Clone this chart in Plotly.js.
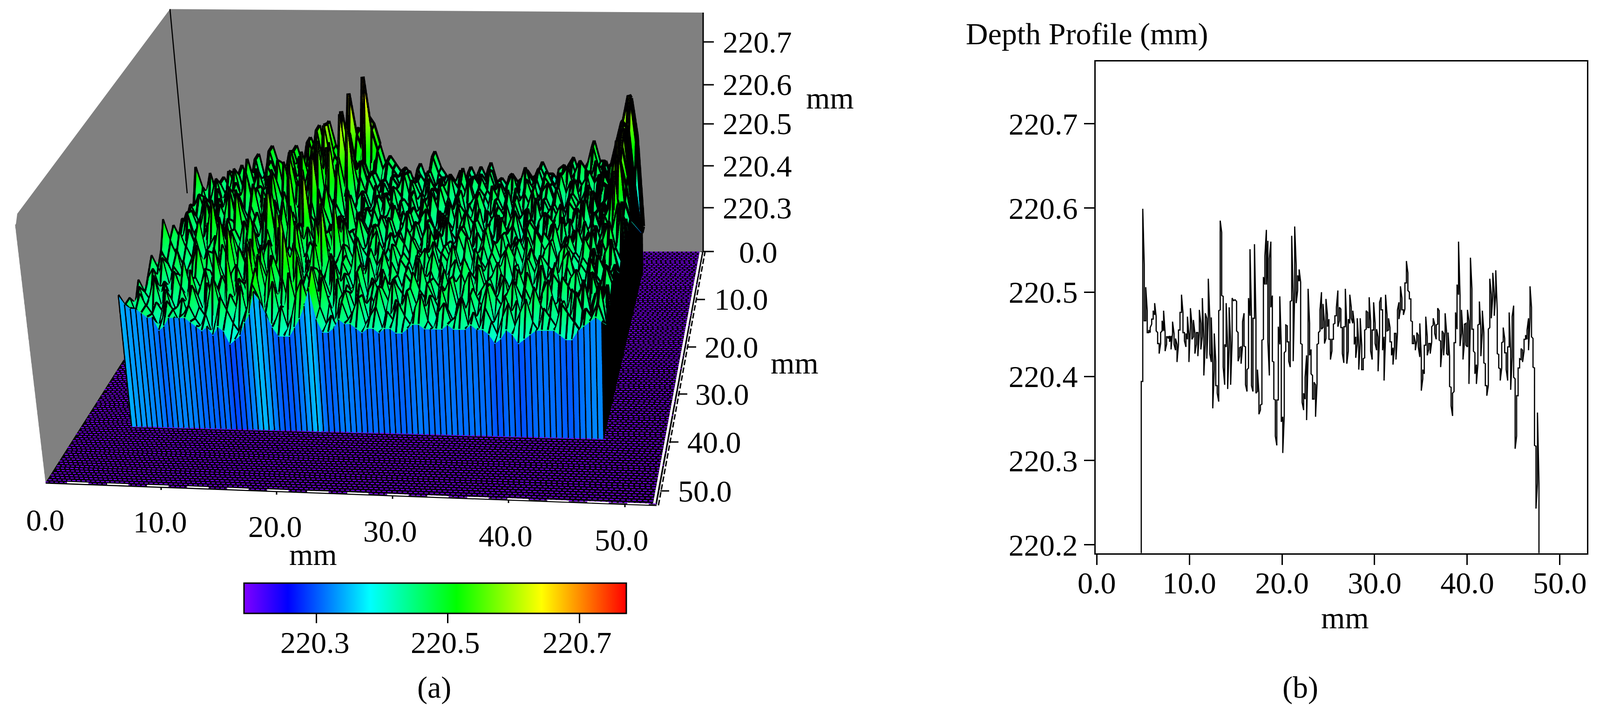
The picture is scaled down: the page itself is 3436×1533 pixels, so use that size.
<!DOCTYPE html><html><head><meta charset="utf-8"><script src="https://cdn.plot.ly/plotly-3.0.1.min.js"></script>
<style>html,body{margin:0;padding:0;background:#fff;overflow:hidden;width:3436px;height:1533px}#g{position:absolute}</style></head><body><div id="g"></div>
<script>
// ---------- data ----------
// Panel (b): per-column highest / lowest reading of the profile, in 0.001 mm above 220 mm
const profileHighMilli=[394,599,533,506,478,455,458,468,478,487,471,452,439,452,466,478,452,447,447,448,448,465,451,445,438,455,476,497,476,452,451,471,449,481,462,467,451,452,452,479,463,493,447,475,469,516,470,470,415,451,418,389,478,585,571,495,438,487,435,482,441,493,490,491,489,452,434,435,465,475,435,408,493,551,472,469,557,467,408,380,366,443,518,543,574,561,540,560,496,417,372,372,459,495,437,352,428,461,460,441,489,567,498,578,532,520,527,512,438,380,399,425,504,463,432,401,393,390,438,452,479,500,486,465,492,473,468,444,444,462,472,482,502,482,480,458,459,504,458,468,
497,482,478,463,447,469,438,469,437,421,455,478,476,494,465,455,488,463,456,447,488,494,479,447,497,473,469,458,441,434,451,451,479,488,507,493,479,511,537,523,500,492,465,449,441,452,449,463,423,408,437,471,447,439,439,459,469,462,461,481,478,442,454,451,475,452,452,424,387,380,440,476,509,560,497,479,449,462,463,479,466,541,504,456,428,414,461,489,456,478,452,415,389,456,516,497,523,499,526,478,426,409,440,458,445,428,435,476,430,471,484,397,377,410,421,433,431,444,449,455,469,507,482,445,410,317,357,273];
const profileLowMilli=[190,394,466,466,452,452,452,462,468,473,454,439,427,439,454,454,430,438,445,441,432,451,438,431,417,438,455,476,452,442,435,444,417,458,444,447,427,438,424,452,432,447,401,439,421,469,427,417,362,408,389,380,370,479,496,411,390,435,385,435,390,442,490,491,454,418,424,415,436,436,390,382,410,472,389,382,469,380,382,355,360,367,444,509,509,441,401,482,418,373,329,318,372,438,346,309,353,430,441,418,411,490,418,499,487,502,513,439,369,360,373,348,425,425,403,373,373,352,391,439,454,456,458,439,445,459,444,420,430,444,463,472,459,466,458,427,416,459,415,430,
463,469,463,438,422,438,408,438,408,408,422,456,458,458,430,420,455,439,431,406,447,479,431,395,447,454,455,441,425,414,434,420,451,468,480,479,473,480,511,502,492,466,439,439,431,442,435,423,383,397,403,437,425,432,427,441,461,451,444,462,443,411,434,425,452,427,425,388,365,353,382,440,456,497,436,451,420,441,437,435,391,468,456,430,403,391,414,462,424,452,416,389,377,389,458,469,496,472,499,427,410,395,410,441,428,408,395,435,384,423,399,314,329,377,410,420,417,430,444,444,431,469,447,411,318,243,273,190];
// Panel (a): surface height, front row first, back row last, in 0.01 mm above 220 mm
const depthRows=[
[50,48,47,47,46,45,45,42,43,45,45,45,45,44,43,42,43,41,43,42,39,40,41,44,46,51,49,46,43,41,41,41,43,45,48,52,45,42,42,43,45,44,44,43,42,43,43,42,43,43,42,42,43,44,44,43,43,43,43,44,43,43,43,44,43,43,42,40,41,43,42,40,41,42,43,43,43,43,42,41,41,43,44,45,46,45],
[46,45,45,42,46,44,41,43,47,45,42,44,46,43,41,44,39,43,48,45,42,40,43,46,51,48,44,40,43,46,41,44,49,52,47,55,46,42,44,41,47,43,45,48,42,44,46,41,45,43,47,44,42,46,49,43,41,45,47,43,44,48,42,45,41,46,43,40,44,47,42,45,48,43,41,46,44,42,47,45,43,41,46,44,47,43],
[46,42,47,44,41,45,43,48,42,44,46,41,49,44,42,46,51,43,40,47,44,49,41,45,53,42,46,50,41,44,52,45,41,47,49,43,51,45,40,46,48,42,44,47,41,45,49,43,42,46,44,48,41,45,43,47,42,49,44,41,46,43,47,42,45,49,41,44,47,43,46,41,44,49,45,42,47,43,46,41,48,44,42,45,50,41],
[43,47,41,45,49,42,46,44,40,47,43,51,45,41,48,43,46,41,55,44,49,42,57,45,41,48,53,44,49,42,46,54,43,48,42,51,45,41,49,44,46,42,48,43,45,41,47,44,49,42,45,47,43,41,48,45,42,46,49,43,45,41,47,44,42,48,45,43,46,49,41,47,44,42,46,49,43,45,41,47,44,49,42,46,43,48],
[47,44,42,48,43,46,41,49,45,43,47,42,46,49,41,45,48,44,42,50,46,41,47,53,44,49,42,45,58,43,48,46,41,50,44,47,43,51,42,46,44,49,41,45,47,43,48,42,46,44,41,49,45,43,47,42,46,44,48,41,46,49,43,45,47,42,44,48,41,46,43,49,45,42,47,44,41,48,46,43,45,41,49,44,46,42],
[42,46,48,43,45,41,47,44,50,42,46,43,48,41,53,45,42,47,49,43,46,55,42,48,44,51,46,41,49,54,44,47,42,48,45,41,50,44,47,43,45,49,42,46,41,48,44,46,42,47,45,41,49,43,46,44,48,42,45,47,43,41,49,44,46,42,47,45,41,48,44,46,42,49,43,47,45,41,46,48,42,44,47,43,49,45],
[45,41,44,49,42,47,45,43,41,48,52,44,46,42,47,43,57,45,41,49,44,47,52,43,48,42,59,46,44,49,41,47,53,43,46,50,42,48,45,41,47,44,49,43,46,42,48,45,41,47,43,49,44,46,42,48,43,45,41,49,46,44,47,42,45,48,43,41,47,44,49,42,46,45,43,48,41,47,44,46,42,49,45,43,47,44],
[48,45,42,46,43,49,41,45,47,43,46,49,42,45,41,48,44,50,46,42,55,44,41,48,46,43,50,45,56,42,47,44,49,60,43,46,42,48,45,51,43,47,41,45,49,44,42,47,45,43,48,41,46,49,44,42,45,47,43,46,41,48,44,47,42,45,49,43,46,41,47,44,48,42,45,43,47,49,42,46,44,41,48,45,43,46],
[43,47,45,41,48,44,42,46,50,44,41,47,43,49,45,52,42,46,44,48,41,47,50,43,53,46,42,49,45,47,41,55,44,48,42,46,49,43,47,45,41,48,44,46,42,49,43,47,45,41,46,48,44,42,47,45,49,43,46,41,48,45,43,47,44,42,49,46,41,45,48,43,46,44,42,47,49,45,41,46,44,48,42,47,50,43],
[46,43,48,45,42,47,44,49,41,46,43,48,54,42,45,47,43,49,42,46,44,51,45,57,41,47,44,52,42,48,46,43,50,45,58,42,47,44,49,41,46,43,48,45,42,47,44,41,49,46,43,45,48,42,47,44,46,41,49,43,45,47,42,48,44,46,41,47,43,49,45,42,46,48,44,41,47,45,43,49,46,42,48,44,46,41],
[52,47,43,49,45,41,47,52,43,46,48,42,45,49,44,41,47,53,45,42,49,44,47,41,48,55,43,46,50,42,47,44,49,43,46,52,41,48,45,43,47,49,42,45,41,48,46,43,47,44,42,49,45,43,46,41,48,44,47,42,45,49,43,46,48,41,45,47,44,42,49,46,43,47,41,45,48,44,42,46,49,43,47,51,45,42],
[44,49,46,42,48,44,47,41,49,55,43,46,42,48,45,50,43,47,41,46,58,44,49,42,47,45,43,62,46,44,50,42,48,45,41,47,44,51,43,46,49,42,45,47,43,41,48,45,42,46,49,44,47,41,45,43,48,46,42,47,44,49,41,45,47,43,46,42,48,44,41,47,45,49,43,46,42,48,44,47,41,45,49,46,43,54],
[47,43,45,50,42,46,44,48,41,47,45,49,43,56,42,46,48,44,50,42,47,45,53,41,46,48,44,50,42,56,45,47,41,49,44,46,42,48,45,43,47,41,49,44,46,42,45,48,43,47,41,46,44,49,42,45,47,43,48,41,46,44,42,49,45,47,43,41,48,46,44,42,47,45,49,41,46,43,48,44,47,42,45,46,52,44],
[43,46,49,44,41,47,52,43,48,45,41,47,44,50,46,43,49,41,47,55,44,46,42,49,45,58,43,47,41,50,46,44,48,42,54,45,49,43,46,41,48,44,47,42,45,49,43,46,41,47,45,43,48,44,42,46,49,41,47,44,45,42,48,43,46,49,41,45,47,44,42,48,46,43,45,47,41,49,44,46,42,48,45,58,44,47],
[46,42,48,44,47,50,43,45,41,48,53,44,47,42,49,45,43,51,46,42,48,44,59,43,47,45,50,42,48,54,44,46,41,49,43,47,45,42,48,44,46,41,49,45,43,47,42,46,48,44,41,47,45,43,49,42,46,44,48,41,45,47,43,49,44,46,42,48,41,45,47,43,46,49,42,44,48,45,41,47,43,46,49,50,46,43],
[44,48,45,42,50,46,43,48,44,41,46,49,42,47,53,44,47,42,49,45,51,43,46,48,42,50,61,44,47,41,48,45,43,50,46,42,47,44,49,41,45,48,43,46,42,47,44,49,45,41,46,43,48,42,47,45,44,49,41,46,43,47,45,42,48,44,46,41,49,43,45,47,44,42,48,46,41,49,43,45,47,44,53,62,48,44],
[42,46,49,44,47,41,48,45,51,43,49,45,42,47,44,50,46,55,43,48,45,42,52,47,44,58,46,42,49,45,56,43,47,45,41,48,44,46,42,49,45,43,47,41,48,44,46,43,49,45,42,47,44,48,41,46,43,49,45,42,47,44,46,41,48,43,45,49,42,47,44,46,43,41,48,45,47,42,49,44,46,43,49,56,50,42],
[46,43,47,45,42,49,44,46,48,42,47,53,44,49,45,42,48,51,46,43,57,49,44,47,52,45,42,50,60,47,44,49,42,46,48,44,41,47,45,43,49,42,46,44,48,41,45,47,43,49,44,42,46,48,41,45,47,44,42,49,46,43,48,41,45,47,44,49,42,46,43,48,44,41,47,45,42,49,46,43,45,47,50,58,51,40],
[53,48,42,46,50,44,47,43,49,45,52,46,43,48,44,50,47,42,54,46,49,44,48,52,46,59,43,49,45,55,47,63,44,50,46,42,48,44,46,42,47,45,41,49,44,46,43,47,42,48,45,41,46,44,49,43,47,45,42,46,48,44,41,47,43,49,45,42,46,48,44,47,41,45,49,43,46,44,42,48,47,45,52,60,49,38],
[42,45,50,43,47,44,46,51,44,48,43,47,50,45,49,46,53,44,48,51,46,55,49,45,52,47,56,50,46,64,49,53,46,44,48,45,43,47,44,42,46,49,43,47,44,42,48,45,43,46,49,42,47,44,46,41,48,45,43,47,42,46,49,44,41,47,45,43,48,46,42,49,44,47,43,46,48,42,45,49,46,48,54,59,47,36],
[43,47,44,46,41,49,45,48,43,52,46,49,44,50,47,45,51,48,54,46,50,47,52,56,48,60,50,47,54,49,58,48,51,46,48,44,46,42,47,45,43,48,44,46,42,48,45,43,47,41,46,44,49,43,47,45,42,48,44,46,43,47,41,45,49,44,46,42,48,45,43,47,49,44,46,43,48,45,47,42,49,50,56,57,46,34],
[41,44,42,46,43,47,45,49,44,46,48,45,47,50,46,49,47,52,48,51,49,55,49,47,53,59,51,49,62,53,50,47,49,45,47,44,45,42,46,43,45,47,43,46,44,47,43,45,42,46,44,47,43,45,41,46,44,47,42,45,43,46,44,42,46,44,47,43,45,41,47,48,44,46,49,47,44,49,45,43,48,53,58,56,43,32],
[40,41,42,41,43,42,41,43,42,49,42,43,51,46,44,46,43,51,46,47,53,49,56,47,57,51,48,48,51,65,55,51,69,56,51,46,48,46,44,45,43,41,46,42,42,49,45,43,41,41,40,41,45,42,45,42,46,41,42,40,41,41,42,44,42,43,46,43,43,41,41,45,47,43,44,46,51,46,46,42,40,48,57,63,52,30],
[40,41,42,41,43,42,41,43,42,49,42,43,51,46,44,46,43,51,46,47,53,49,56,47,57,51,48,48,51,54,55,51,58,56,51,46,48,46,44,45,43,41,46,42,42,49,45,43,41,41,40,41,45,42,45,42,46,41,42,40,41,41,42,44,42,43,46,43,43,41,41,45,47,43,44,46,51,46,46,42,40,48,56,61,52,30]
];
const xTickLabels=['0.0','10.0','20.0','30.0','40.0','50.0'];
const yTickLabels3d=['0.0','10.0','20.0','30.0','40.0','50.0'];
const zTickLabels=['220.3','220.4','220.5','220.6','220.7'];
const barTickValues=[220.3,220.5,220.7];
const profileYTicks=[220.2,220.3,220.4,220.5,220.6,220.7];
const profileXTicks=[0,10,20,30,40,50];

// ---------- page geometry ----------
const Lx=-1335,Ty=-1258,W=4771,H=4692,Ws=2880;
const px=x=>(x-Lx)/W, py=y=>1-(y-Ty)/H;
const g=document.getElementById('g');g.style.left=Lx+'px';g.style.top=Ty+'px';g.style.width=W+'px';g.style.height=H+'px';
const serif='Liberation Serif',fs=66;
const rainbow=[[0,'#8000ff'],[0.115,'#0000ff'],[0.33,'#00ffff'],[0.556,'#00ff00'],[0.778,'#ffff00'],[1,'#ff0000']];
const zMin=220.19,zMax=220.77,axisSpan=53;
const flat={ambient:1,diffuse:0,specular:0,roughness:1,fresnel:0};

// ---------- panel (a) surface ----------
const nCols=depthRows[0].length,nRows=depthRows.length;
const colX=Array.from({length:nCols},(_,k)=>4.9+k*(47.6-4.9)/(nCols-1));
const rowY=Array.from({length:nRows},(_,r)=>axisSpan-(41.7-r*(36.7/(nRows-1)))); // scene y runs from the front towards the back
const topZ=depthRows.map(r=>r.map(v=>220+v/100));
const frontZ=topZ[0],rightZ=topZ.map(r=>r[nCols-1]);
const shared={colorscale:rainbow,cmin:zMin,cmax:220.771,lighting:flat,hoverinfo:'skip'};
const topTrace={type:'surface',x:colX,y:rowY,z:topZ,...shared,
 colorbar:{orientation:'h',lenmode:'pixels',len:821,thicknessmode:'pixels',thickness:65,x:px(523.6),xanchor:'left',y:py(1251.7),yanchor:'top',xpad:0,ypad:0,outlinewidth:3,outlinecolor:'#000',ticks:'outside',ticklen:20,tickwidth:3,tickcolor:'#000',tickvals:barTickValues,showticklabels:false}};
const frontTrace={type:'surface',x:[colX,colX],y:[colX.map(()=>rowY[0]),colX.map(()=>rowY[0])],z:[colX.map(()=>zMin),frontZ],
 surfacecolor:[frontZ.map(z=>(z+zMin)/2),frontZ.map(z=>(z+zMin)/2)],showscale:false,...shared};
const rightTrace={type:'surface',x:[rowY.map(()=>colX[nCols-1]),rowY.map(()=>colX[nCols-1])],y:[rowY,rowY],z:[rowY.map(()=>zMin),rightZ],
 surfacecolor:[rowY.map(()=>0),rowY.map(()=>0)],cmin:0,cmax:1,colorscale:[[0,'#000'],[1,'#000']],showscale:false,lighting:flat,hoverinfo:'skip'};
// mesh lines on the surface; heavier towards the back, as the reference closes up there
const eps=0.002;
function mesh(rowFrom,colRowFrom,r1,k0,k1,width){const mx=[],my=[],mz=[];
 for(let r=rowFrom;r<=r1;r++){for(let k=k0;k<=k1;k++){mx.push(colX[k]);my.push(rowY[r]);mz.push(topZ[r][k]+eps);}mx.push(NaN);my.push(NaN);mz.push(NaN);}
 for(let k=k0;k<=k1;k++){for(let r=colRowFrom;r<=r1;r++){mx.push(colX[k]);my.push(rowY[r]);mz.push(topZ[r][k]+eps);}mx.push(NaN);my.push(NaN);mz.push(NaN);}
 return {type:'scatter3d',mode:'lines',x:mx,y:my,z:mz,line:{color:'#000',width},hoverinfo:'skip',showlegend:false};}
const meshTraces=[mesh(1,0,11,0,nCols-1,7),mesh(11,11,20,0,nCols-1,9),mesh(20,20,nRows-1,0,nCols-1,11),mesh(20,20,nRows-1,27,34,15),mesh(14,14,nRows-1,78,nCols-1,17),mesh(1,1,14,80,nCols-1,11)];
// stripes on the front face
const fx=[],fy=[],fz=[];
for(let k=0;k<nCols;k++){fx.push(colX[k],colX[k],NaN);fy.push(rowY[0]-0.03,rowY[0]-0.03,NaN);fz.push(zMin,frontZ[k],NaN);}
const stripeTrace={type:'scatter3d',mode:'lines',x:fx,y:fy,z:fz,line:{color:'#000',width:4.5},hoverinfo:'skip',showlegend:false};
// floor dashes
const dx=[],dy=[],dz=[];const fzv=zMin+0.0015;const step=0.45;
for(let j=0;j*step<axisSpan;j++){const yy=j*step;const off=(j%3)*0.12+(j%7)*0.03;
 for(let i=0;i*step+off+0.3<axisSpan;i++){const xa=i*step+off;const inside=xa>5.5&&xa<47&&yy>12&&yy<47.5;if(inside)continue;dx.push(xa,xa+0.3,NaN);dy.push(yy,yy,NaN);dz.push(fzv,fzv,NaN);}}
const floorTrace={type:'scatter3d',mode:'lines',x:dx,y:dy,z:dz,line:{color:'#7a00f0',width:3.4},hoverinfo:'skip',showlegend:false};

// ---------- panel (b) profile ----------
const lineX=[],lineY=[];let last=profileLowMilli[0];
profileHighMilli.forEach((hi,i)=>{const lo=profileLowMilli[i];const xv=4.81+i*0.1608;
 const first=Math.abs(hi-last)<Math.abs(lo-last)?hi:lo;const second=first===hi?lo:hi;
 lineX.push(xv,xv);lineY.push(220+first/1000,220+second/1000);last=second;});
const profileTrace={type:'scatter',mode:'lines',x:lineX,y:lineY,line:{color:'#000',width:2.6},xaxis:'x',yaxis:'y',hoverinfo:'skip',showlegend:false};

// ---------- text ----------
const ann=(t,x,y,size)=>({text:t,x:px(x),y:py(y),xref:'paper',yref:'paper',xanchor:'center',yanchor:'middle',showarrow:false,font:{family:serif,size:size||fs,color:'#000'}});
const xPos=[[98,1116],[344,1120],[591,1130],[838,1140],[1086,1150],[1335,1159]];
const yPos=[[1628,541],[1592,642],[1571,745],[1551,846],[1534,949],[1514,1054]];
const zPos=[[1626,446],[1626,356],[1626,266],[1626,182],[1626,90]];
const annotations=[
 ...xTickLabels.map((t,i)=>ann(t,xPos[i][0],xPos[i][1])),
 ...yTickLabels3d.map((t,i)=>ann(t,yPos[i][0],yPos[i][1])),
 ...zTickLabels.map((t,i)=>ann(t,zPos[i][0],zPos[i][1])),
 ann('mm',672,1190),ann('mm',1706,779),ann('mm',1782,210),
 ann('220.3',677,1379),ann('220.5',956,1379),ann('220.7',1240,1379),
 ann('(a)',932,1476),ann('(b)',2792,1476),
 ann('Depth Profile (mm)',2334,73),ann('mm',2888,1326)
];
// ---------- strokes drawn on the page ----------
const seg=(x0,y0,x1,y1,color,width,dash)=>({type:'line',xref:'paper',yref:'paper',x0:px(x0),y0:py(y0),x1:px(x1),y1:py(y1),line:{color:color||'#000',width:width||3,dash:dash||'solid'}});
const poly=pts=>'M'+pts.map(p=>px(p[0])+','+py(p[1])).join(' L')+' Z';
const shapes=[
 {type:'path',xref:'paper',yref:'paper',path:poly([[365,19.5],[1510,27],[1510,32],[373,72],[33,490],[37,459]]),fillcolor:'#808080',line:{width:0}},
 seg(365,19.5,402,415,'#000',2.5),seg(1510,27,1510,540),
 seg(1510,90,1533,90),seg(1510,182,1533,182),seg(1510,266,1533,266),seg(1510,356,1533,356),seg(1510,446,1533,446),seg(1510,540,1533,540),
 seg(1496,643,1514,643),seg(1476,745,1495,745),seg(1456,846,1476,846),seg(1437,949,1457,949),seg(1418,1054,1437,1054),
 seg(346,1045,346,1052),seg(594,1055,594,1062),seg(843,1064,843,1071),seg(1092,1073,1092,1080),seg(1342,1082,1342,1089),
 seg(1405,1081,1505,541,'#fff',5),seg(1414,1085,1514,541,'#000',3,'12px,5px'),
 seg(98,1037,1410,1085,'#000',3),seg(144,1036,1410,1083,'#fff',3,'46px,40px')
];
const ax3={showticklabels:false,ticks:'',showgrid:false,zeroline:false,showline:false,showspikes:false,title:{text:''},showbackground:true,backgroundcolor:'#808080'};
const tickFont={family:serif,size:fs,color:'#000'};
const layout={width:W,height:H,margin:{l:0,r:0,t:0,b:0},paper_bgcolor:'#fff',showlegend:false,annotations,shapes,
 scene:{domain:{x:[0,Ws/W],y:[0,1]},aspectmode:'manual',aspectratio:{x:1.0612,y:1,z:.42673},
  xaxis:{...ax3,range:[0,axisSpan]},yaxis:{...ax3,range:[0,axisSpan]},zaxis:{...ax3,range:[zMin,zMax],backgroundcolor:'#000'},
  camera:{eye:{x:.8586,y:-3.9726,z:1.5065},center:{x:-.5516,y:-.4448,z:-.2834},up:{x:-.03249,y:.442,z:.89645},projection:{type:'perspective'}}},
 xaxis:{domain:[px(2352.6),px(3407.5)],range:[-.13,52.9],showline:true,mirror:true,linecolor:'#000',linewidth:3,ticks:'outside',ticklen:22,tickwidth:3,tickcolor:'#000',showgrid:false,zeroline:false,tickvals:profileXTicks,ticktext:xTickLabels,tickfont:tickFont,ticklabelstandoff:-18},
 yaxis:{domain:[py(1187.7),py(132)],range:[220.19,220.774],showline:true,mirror:true,linecolor:'#000',linewidth:3,ticks:'outside',ticklen:22,tickwidth:3,tickcolor:'#000',showgrid:false,zeroline:false,tickvals:profileYTicks,ticktext:profileYTicks.map(v=>v.toFixed(1)),tickfont:tickFont}
};
Plotly.newPlot(g,[floorTrace,topTrace,frontTrace,rightTrace,...meshTraces,stripeTrace,profileTrace],layout,{displayModeBar:false});
</script></body></html>
